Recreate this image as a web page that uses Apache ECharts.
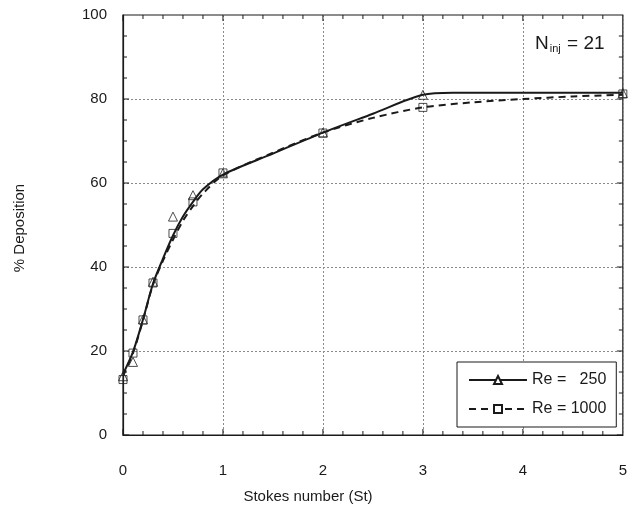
<!DOCTYPE html>
<html>
<head>
<meta charset="utf-8">
<script src="https://cdn.jsdelivr.net/npm/echarts@6/dist/echarts.min.js"></script>
<style>html,body{margin:0;padding:0;background:#fff;}#c{width:630px;height:510px;}</style>
</head>
<body>
<div id="c"></div>
<script>
// Markers
const stMarkers = [0, 0.1, 0.2, 0.3, 0.5, 0.7, 1, 2, 3, 5];
const tri250 = [14, 17.4, 27.5, 36.5, 52, 57.1, 62.3, 72, 81, 81.4];
const sq1000 = [13.2, 19.5, 27.4, 36.2, 48, 55.5, 62.4, 71.9, 78, 81.2];

// Fitted curves
const stCurve250 = [0, 0.1, 0.2, 0.3, 0.4, 0.5, 0.6, 0.7, 0.8, 1, 1.5, 2, 2.5, 3, 3.3, 4, 5];
const curve250 = [14.5, 19.8, 27.5, 36, 42, 47.5, 52, 55.5, 58.5, 62, 67, 72, 76.5, 81, 81.5, 81.5, 81.5];
const stCurve1000 = [0, 0.1, 0.2, 0.3, 0.4, 0.5, 0.6, 0.7, 0.8, 1, 1.5, 2, 2.5, 3, 3.5, 4, 4.5, 5];
const curve1000 = [14, 19.5, 27.3, 35.8, 41.5, 46.5, 51, 54.5, 57.5, 61.8, 67.2, 72, 75.5, 78, 79.2, 80, 80.6, 81];

const xTicks = [0, 1, 2, 3, 4, 5];
const yTicks = [0, 20, 40, 60, 80, 100];
const xMinorPerMajor = 5;
const yMinorPerMajor = 4;
const seriesNames = ['Re =   250', 'Re = 1000'];

const zip = (a, b) => a.map((v, i) => [v, b[i]]);
const font = 'Liberation Sans, Arial, Helvetica, sans-serif';
const ink = '#1a1a1a';

const gridLine = { show: true, lineStyle: { color: '#8a8a8a', type: [2, 2], width: 1 } };

// inward-pointing major/minor ticks on all four sides, placed through the axes' scales
function renderTicks(params, api) {
  const children = [];
  const style = { stroke: ink, lineWidth: 1 };
  const xMin = xTicks[0], xMax = xTicks[xTicks.length - 1];
  const yMin = yTicks[0], yMax = yTicks[yTicks.length - 1];
  for (let i = 0; i < xTicks.length - 1; i++) {
    for (let k = 0; k < xMinorPerMajor; k++) {
      const v = xTicks[i] + (xTicks[i + 1] - xTicks[i]) * k / xMinorPerMajor;
      const len = k === 0 ? 6 : 4;
      const b = api.coord([v, yMin]), t = api.coord([v, yMax]);
      children.push({ type: 'line', shape: { x1: b[0], y1: b[1], x2: b[0], y2: b[1] - len }, style });
      children.push({ type: 'line', shape: { x1: t[0], y1: t[1], x2: t[0], y2: t[1] + len }, style });
    }
  }
  for (let i = 0; i < yTicks.length - 1; i++) {
    for (let k = 0; k < yMinorPerMajor; k++) {
      const v = yTicks[i] + (yTicks[i + 1] - yTicks[i]) * k / yMinorPerMajor;
      const len = k === 0 ? 6 : 4;
      const l = api.coord([xMin, v]), r = api.coord([xMax, v]);
      children.push({ type: 'line', shape: { x1: l[0], y1: l[1], x2: l[0] + len, y2: l[1] }, style });
      children.push({ type: 'line', shape: { x1: r[0], y1: r[1], x2: r[0] - len, y2: r[1] }, style });
    }
  }
  return { type: 'group', children };
}

const chart = echarts.init(document.getElementById('c'));
chart.setOption({
  backgroundColor: '#fff',
  animation: false,
  grid: { left: 123, right: 6, top: 15, bottom: 75, show: true, borderColor: ink, borderWidth: 1.2, backgroundColor: 'transparent' },
  xAxis: {
    type: 'value', min: xTicks[0], max: xTicks[xTicks.length - 1], interval: 1,
    axisLine: { show: true, lineStyle: { color: ink, width: 1.2 } },
    axisTick: { show: false }, minorTick: { show: false },
    axisLabel: { margin: 28, fontSize: 15, color: ink, fontFamily: font },
    splitLine: gridLine
  },
  yAxis: {
    type: 'value', min: yTicks[0], max: yTicks[yTicks.length - 1], interval: 20,
    axisLine: { show: true, lineStyle: { color: ink, width: 1.2 } },
    axisTick: { show: false }, minorTick: { show: false },
    axisLabel: { margin: 16, fontSize: 15, color: ink, fontFamily: font },
    splitLine: gridLine
  },
  legend: {
    data: seriesNames,
    orient: 'vertical',
    left: 457, top: 362,
    backgroundColor: '#fff',
    borderColor: ink, borderWidth: 1, borderRadius: 0,
    padding: [10, 10, 10, 11],
    itemGap: 13,
    itemWidth: 58, itemHeight: 10,
    textStyle: { fontSize: 16, color: ink, fontFamily: font },
    z: 10
  },
  series: [
    {
      name: 'ticks', type: 'custom', renderItem: renderTicks,
      data: [[xTicks[0], yTicks[0]]], silent: true, z: 2
    },
    {
      name: seriesNames[0], type: 'line', smooth: 0.3, showSymbol: false,
      symbol: 'triangle', symbolSize: 8,
      data: zip(stCurve250, curve250),
      lineStyle: { color: ink, width: 2, type: 'solid' },
      itemStyle: { color: '#fff', borderColor: ink, borderWidth: 1 },
      z: 3
    },
    {
      name: seriesNames[1], type: 'line', smooth: 0.3, showSymbol: false,
      symbol: 'rect', symbolSize: 8,
      data: zip(stCurve1000, curve1000),
      lineStyle: { color: ink, width: 2, type: [7, 5] },
      itemStyle: { color: '#fff', borderColor: ink, borderWidth: 1 },
      z: 3
    },
    {
      name: 'tri250', type: 'scatter', symbol: 'triangle', symbolSize: 9,
      data: zip(stMarkers, tri250),
      itemStyle: { color: 'rgba(255,255,255,0)', borderColor: '#222', borderWidth: 1 },
      z: 4
    },
    {
      name: 'sq1000', type: 'scatter', symbol: 'rect', symbolSize: 8,
      data: zip(stMarkers, sq1000),
      itemStyle: { color: 'rgba(255,255,255,0)', borderColor: '#222', borderWidth: 1 },
      z: 4
    }
  ],
  graphic: [
    {
      type: 'text', left: 535, top: 34,
      style: {
        text: '{n|N}{s|inj}{n| = 21}',
        rich: {
          n: { fontSize: 19, fontFamily: font, fill: ink },
          s: { fontSize: 11, fontFamily: font, fill: ink, padding: [11, 1, 0, 1] }
        }
      }
    },
    {
      type: 'text', x: 308, y: 497,
      style: { text: 'Stokes number (St)', fontSize: 15, fontFamily: font, fill: ink, align: 'center', verticalAlign: 'middle' }
    },
    {
      type: 'text', x: 20, y: 228, rotation: Math.PI / 2,
      style: { text: '% Deposition', fontSize: 15, fontFamily: font, fill: ink, align: 'center', verticalAlign: 'middle' }
    }
  ]
});
</script>
</body>
</html>
